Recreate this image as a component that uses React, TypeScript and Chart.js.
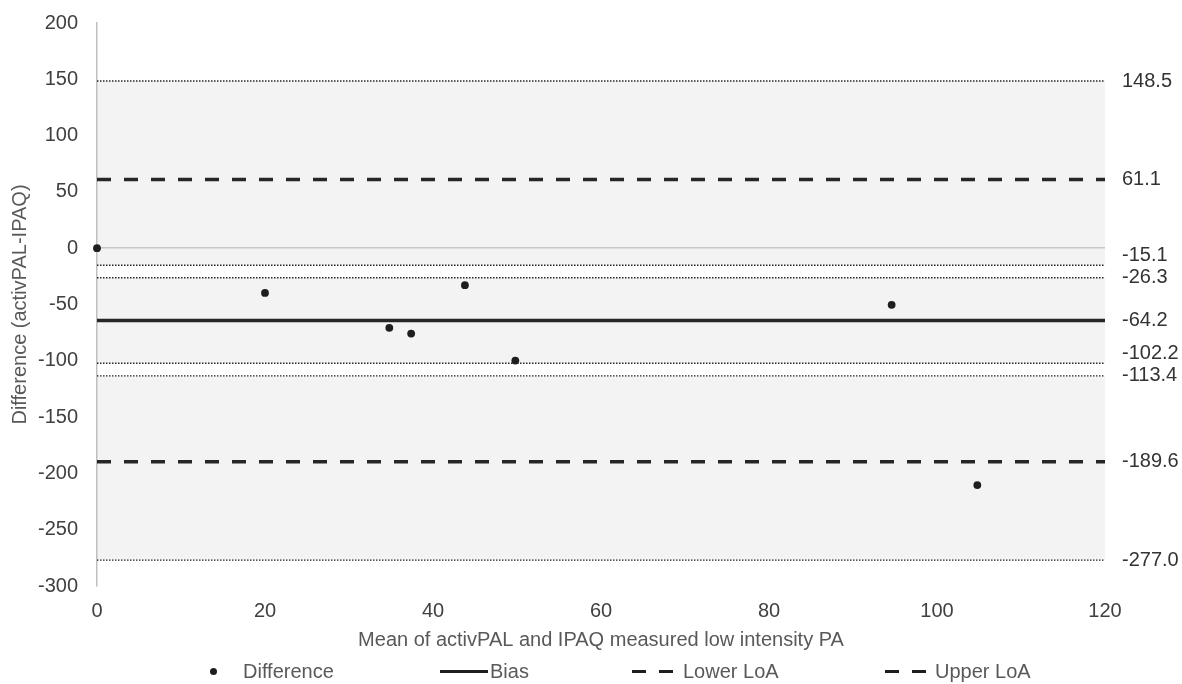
import React, { useEffect, useRef } from 'react';
import { Chart, registerables } from 'chart.js';

Chart.register(...registerables);

// ---- data ----
const meanVals = [0, 20.0, 34.8, 37.4, 43.8, 49.8, 94.6, 104.8];
const diffVals = [0, -39.7, -70.7, -75.8, -32.8, -99.8, -50.3, -210.4];
const bias = -64.2;
const upperLoA = 61.1;
const lowerLoA = -189.6;
const upperLoACI = [148.5, -15.1];
const biasCI = [-26.3, -102.2];
const lowerLoACI = [-113.4, -277.0];
const xRange = [0, 120];
const xStep = 20;
const yRange = [-300, 200];
const yStep = 50;
const legendLabels = ['Difference', 'Bias', 'Lower LoA', 'Upper LoA'];
const xTitle = 'Mean of activPAL and IPAQ measured low intensity PA';
const yTitle = 'Difference (activPAL-IPAQ)';

const rightLabels = [
  upperLoACI[0], upperLoA, upperLoACI[1], biasCI[0], bias, biasCI[1], lowerLoACI[0], lowerLoA, lowerLoACI[1],
];

const FONT = "'Liberation Sans', Arial, Helvetica, sans-serif";
const TICK_COLOR = '#404040';
const TITLE_COLOR = '#595959';

const hLine = (v: number) => xRange.map((x) => ({ x, y: v }));

export default function App() {
  const ref = useRef<HTMLCanvasElement | null>(null);

  useEffect(() => {
    if (!ref.current) return;
    const dotted = {
      showLine: true,
      borderColor: '#262626',
      borderWidth: 1.4,
      borderDash: [1.5, 1.5],
      pointRadius: 0,
      backgroundColor: '#f3f3f3',
    };
    const ciSets: any[] = [];
    [upperLoACI, biasCI, lowerLoACI].forEach((pair, k) => {
      ciSets.push({ ...dotted, label: 'ci' + k + 'hi', data: hLine(pair[0]), fill: '+1' });
      ciSets.push({ ...dotted, label: 'ci' + k + 'lo', data: hLine(pair[1]), fill: false });
    });

    const noVPad = (s: any) => {
      s.paddingTop = 0;
      s.paddingBottom = 0;
    };

    const chart = new Chart(ref.current, {
      type: 'scatter',
      data: {
        datasets: [
          {
            label: legendLabels[0],
            data: meanVals.map((x, i) => ({ x, y: diffVals[i] })),
            pointRadius: 3.9,
            pointBackgroundColor: '#1e1e1e',
            pointBorderColor: '#1e1e1e',
            pointBorderWidth: 0,
            showLine: false,
            clip: false,
          } as any,
          {
            label: legendLabels[1],
            data: hLine(bias),
            showLine: true,
            borderColor: '#262626',
            borderWidth: 3.5,
            pointRadius: 0,
          },
          {
            label: legendLabels[2],
            data: hLine(lowerLoA),
            showLine: true,
            borderColor: '#262626',
            borderWidth: 3.5,
            borderDash: [14, 13],
            pointRadius: 0,
          },
          {
            label: legendLabels[3],
            data: hLine(upperLoA),
            showLine: true,
            borderColor: '#262626',
            borderWidth: 3.5,
            borderDash: [14, 13],
            pointRadius: 0,
          },
          ...ciSets,
        ],
      },
      options: {
        animation: false,
        responsive: false,
        devicePixelRatio: 1,
        layout: { padding: { top: 23, bottom: 32, left: 0, right: 0 } },
        plugins: {
          legend: { display: false },
          tooltip: { enabled: false },
          filler: { propagate: false, drawTime: 'beforeDraw' } as any,
        },
        scales: {
          x: {
            type: 'linear',
            min: xRange[0],
            max: xRange[1],
            ticks: { stepSize: xStep, color: TICK_COLOR, font: { family: FONT, size: 20 }, padding: 13 },
            grid: { display: false, drawTicks: false },
            border: { display: false },
            title: {
              display: true,
              text: xTitle,
              color: TITLE_COLOR,
              font: { family: FONT, size: 20 },
              padding: { top: 0, bottom: 0 },
            },
            afterFit: (s: any) => {
              s.height = 66;
            },
          },
          y: {
            type: 'linear',
            position: 'left',
            min: yRange[0],
            max: yRange[1],
            ticks: { stepSize: yStep, color: TICK_COLOR, font: { family: FONT, size: 20 }, padding: 19 },
            grid: {
              drawTicks: false,
              color: (ctx: any) => (ctx.tick && ctx.tick.value === 0 ? '#c8c8c8' : 'rgba(0,0,0,0)'),
              lineWidth: 1.5,
            },
            border: { display: true, color: '#bfbfbf', width: 1.5 },
            title: {
              display: true,
              text: yTitle,
              color: TITLE_COLOR,
              font: { family: FONT, size: 20 },
              padding: { top: 8, bottom: 0 },
            },
            afterFit: (s: any) => {
              s.width = 97;
              noVPad(s);
            },
          },
          y2: {
            type: 'linear',
            position: 'right',
            min: yRange[0],
            max: yRange[1],
            afterBuildTicks: (s: any) => {
              s.ticks = rightLabels.map((v) => ({ value: v }));
            },
            ticks: {
              autoSkip: false,
              color: '#333333',
              font: { family: FONT, size: 20, lineHeight: 1 },
              padding: 17,
              callback: (value: any) => {
                const v = Number(value);
                const txt = v.toFixed(1);
                const crowdedBelow = rightLabels.some((w) => w < v && v - w < 15);
                return crowdedBelow ? [txt, ''] : txt;
              },
            },
            grid: { display: false, drawTicks: false },
            border: { display: false },
            afterFit: (s: any) => {
              s.width = 77;
              noVPad(s);
            },
          },
        },
      },
    });
    return () => chart.destroy();
  }, []);

  const textStyle: React.CSSProperties = {
    position: 'absolute',
    top: 661,
    height: 20,
    lineHeight: '20px',
    fontFamily: FONT,
    fontSize: 20,
    color: TITLE_COLOR,
    whiteSpace: 'nowrap',
  };
  const bar = (left: number, width: number): React.CSSProperties => ({
    position: 'absolute',
    left,
    top: 670,
    width,
    height: 3.2,
    background: '#1e1e1e',
  });

  return (
    <div style={{ position: 'fixed', left: 0, top: 0, width: 1182, height: 684, background: '#ffffff' }}>
      <canvas ref={ref} width={1182} height={684} style={{ display: 'block', width: 1182, height: 684 }} />
      <div
        style={{
          position: 'absolute',
          left: 209.5,
          top: 667.5,
          width: 7,
          height: 7,
          borderRadius: '50%',
          background: '#1e1e1e',
        }}
      />
      <div style={{ ...textStyle, left: 243 }}>{legendLabels[0]}</div>
      <div style={bar(440, 48)} />
      <div style={{ ...textStyle, left: 490 }}>{legendLabels[1]}</div>
      <div style={bar(632, 14)} />
      <div style={bar(659, 14)} />
      <div style={{ ...textStyle, left: 683 }}>{legendLabels[2]}</div>
      <div style={bar(885, 14)} />
      <div style={bar(912, 14)} />
      <div style={{ ...textStyle, left: 935 }}>{legendLabels[3]}</div>
    </div>
  );
}
